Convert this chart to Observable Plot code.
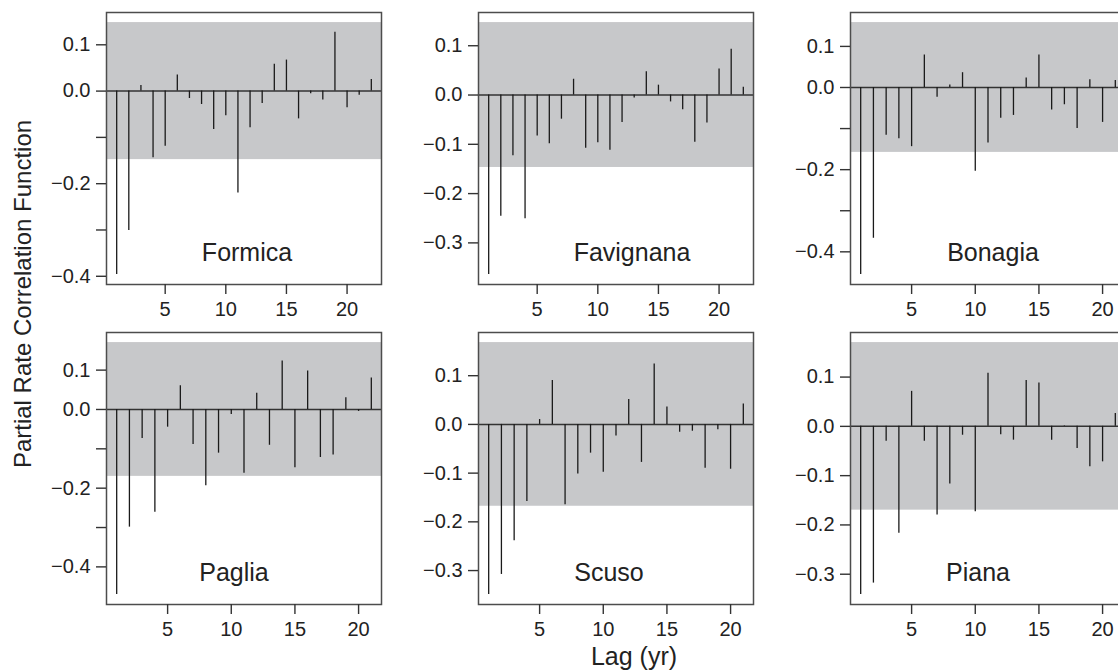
<!DOCTYPE html>
<html>
<head>
<meta charset="utf-8">
<script src="https://cdn.jsdelivr.net/npm/d3@7"></script>
<script src="https://cdn.jsdelivr.net/npm/@observablehq/plot@0.6"></script>
<style>
  html, body { margin: 0; padding: 0; background: #fff; }
  #fig { position: relative; width: 1118px; height: 671px; overflow: hidden;
         font-family: "Liberation Sans", Arial, Helvetica, sans-serif; color: #222; }
  .panel { position: absolute; width: 340px; height: 314px; }
  .panel svg { overflow: visible; max-width: none !important; }
  #titles { position: absolute; left: 0; top: 0; pointer-events: none; }
</style>
</head>
<body>
<div id="fig"></div>
<script>
// ---------------- data ----------------
const sites = ["Formica", "Favignana", "Bonagia", "Paglia", "Scuso", "Piana"];

const formica   = [-0.396,-0.301,0.012,-0.144,-0.119,0.035,-0.016,-0.029,-0.083,-0.053,-0.220,-0.079,-0.027,0.058,0.067,-0.060,-0.006,-0.019,0.127,-0.036,-0.009,0.025];
const favignana = [-0.364,-0.246,-0.123,-0.251,-0.083,-0.099,-0.049,0.032,-0.108,-0.097,-0.112,-0.056,-0.006,0.047,0.020,-0.014,-0.030,-0.096,-0.057,0.053,0.093,0.016];
const bonagia   = [-0.455,-0.367,-0.116,-0.125,-0.144,0.079,-0.024,0.006,0.036,-0.204,-0.135,-0.075,-0.068,0.023,0.079,-0.055,-0.042,-0.100,0.019,-0.085,0.017];
const paglia    = [-0.470,-0.299,-0.074,-0.261,-0.045,0.060,-0.089,-0.194,-0.111,-0.013,-0.162,0.041,-0.091,0.123,-0.148,0.098,-0.122,-0.116,0.030,-0.005,0.080];
const scuso     = [-0.349,-0.308,-0.239,-0.158,0.010,0.090,-0.165,-0.102,-0.059,-0.098,-0.024,0.051,-0.078,0.124,0.036,-0.016,-0.014,-0.090,-0.011,-0.092,0.042];
const piana     = [-0.341,-0.318,-0.030,-0.217,0.071,-0.030,-0.180,-0.117,-0.018,-0.173,0.108,-0.017,-0.028,0.093,0.088,-0.028,0.001,-0.045,-0.082,-0.072,0.026];

// confidence band half-width (shaded region)
const bands = [0.148, 0.147, 0.158, 0.170, 0.168, 0.170];

// axis ticks
const xTicks = [5, 10, 15, 20];
const yTicksLong  = [0.1, 0, -0.1, -0.2, -0.3, -0.4];
const yTicksShort = [0.1, 0, -0.1, -0.2, -0.3];
const yLabelsSparse = [0.1, 0, -0.2, -0.4];

const yAxisTitle = "Partial Rate Correlation Function";
const xAxisTitle = "Lag (yr)";

// ---------------- layout ----------------
const series = [formica, favignana, bonagia, paglia, scuso, piana];
const yTickSets  = [yTicksLong, yTicksShort, yTicksLong, yTicksLong, yTicksShort, yTicksShort];
const yLabelSets = [yLabelsSparse, yTicksShort, yLabelsSparse, yLabelsSparse, yTicksShort, yTicksShort];
const colLeft = [46, 418, 790];
const rowTop = [10, 330];
const labelDx = [3, 16, 5, -10, -7, -10];
const M = {left: 60, right: 5, top: 2, bottom: 40};
const FW = 275, FH = 272;
const FONT = '"Liberation Sans", Arial, sans-serif';

const fmt = d3.format(".1f");
const fig = document.getElementById("fig");

series.forEach((vals, i) => {
  const data = vals.map((v, k) => ({lag: k + 1, v}));
  const band = bands[i];
  const n = vals.length;
  const xPad = (n - 1) * 0.04;
  const lo = Math.min(d3.min(vals), -band), hi = Math.max(d3.max(vals), band);
  const yPad = (hi - lo) * 0.04;
  const labeled = yLabelSets[i];

  const chart = Plot.plot({
    width: M.left + FW + M.right,
    height: M.top + FH + M.bottom,
    marginLeft: M.left, marginRight: M.right, marginTop: M.top, marginBottom: M.bottom,
    style: {fontSize: "20px", fontFamily: FONT, color: "#222", background: "transparent", overflow: "visible", maxWidth: "none"},
    x: {domain: [1 - xPad, n + xPad], axis: null},
    y: {domain: [lo - yPad, hi + yPad], axis: null},
    marks: [
      Plot.rect([band], {y1: d => -d, y2: d => d, fill: "#c7c8ca"}),
      Plot.ruleY([0], {stroke: "#333", strokeWidth: 1.5}),
      Plot.ruleX(data, {x: "lag", y1: 0, y2: "v", stroke: "#1a1a1a", strokeWidth: 1.3}),
      Plot.frame({stroke: "#4d4d4d", strokeWidth: 1.5}),
      Plot.axisX({ticks: xTicks, tickSize: 10, tickPadding: 7, label: null, tickFormat: d3.format("d"),
                  fontSize: 20, fontFamily: FONT, stroke: "#333", strokeWidth: 1.4, fill: "#222"}),
      Plot.axisY({ticks: yTickSets[i], tickSize: 10, tickPadding: 6, label: null,
                  tickFormat: d => labeled.some(l => Math.abs(l - d) < 1e-9) ? fmt(d) : "",
                  fontSize: 20, fontFamily: FONT, stroke: "#333", strokeWidth: 1.4, fill: "#222"}),
      Plot.text([sites[i]], {text: d => d, frameAnchor: "bottom", dy: -24, dx: labelDx[i],
                             fontSize: 25, fontFamily: FONT, fill: "#222"})
    ]
  });
  const wrap = document.createElement("div");
  wrap.className = "panel";
  wrap.style.left = colLeft[i % 3] + "px";
  wrap.style.top = rowTop[Math.floor(i / 3)] + "px";
  wrap.appendChild(chart);
  fig.appendChild(wrap);
});

// axis titles
const ns = "http://www.w3.org/2000/svg";
const svg = document.createElementNS(ns, "svg");
svg.setAttribute("id", "titles");
svg.setAttribute("width", 1118);
svg.setAttribute("height", 671);
const yt = document.createElementNS(ns, "text");
yt.setAttribute("transform", "translate(31,294) rotate(-90)");
yt.setAttribute("text-anchor", "middle");
yt.setAttribute("font-size", "24");
yt.setAttribute("fill", "#222");
yt.setAttribute("font-family", FONT);
yt.textContent = yAxisTitle;
svg.appendChild(yt);
const xt = document.createElementNS(ns, "text");
xt.setAttribute("x", 634);
xt.setAttribute("y", 665);
xt.setAttribute("text-anchor", "middle");
xt.setAttribute("font-size", "25");
xt.setAttribute("fill", "#222");
xt.setAttribute("font-family", FONT);
xt.textContent = xAxisTitle;
svg.appendChild(xt);
fig.appendChild(svg);
</script>
</body>
</html>
